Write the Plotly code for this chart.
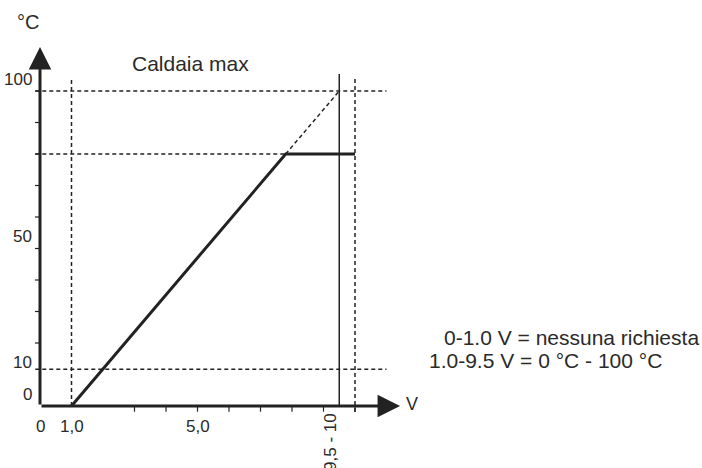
import plotly.graph_objects as go

# ---- data ----
curve_v = [1.0, 7.8, 10.0]          # volts
curve_t = [0, 80, 80]               # °C (Caldaia max = 80)
ext_v = [7.8, 9.5]                  # dashed extension to 100 °C
ext_t = [80, 100]
h_ref_t = [100, 80, 11.7]           # dashed horizontal reference lines
h_ref_end = [11.0, 7.8, 11.0]
v_ref_v = [1.0, 10.0]               # dashed vertical reference lines
v_ref_bottom = [0, -1.9]
v_ref_top = 104.4
solid_v = 9.5
solid_top = 105.4
x_tick_vals = [3, 4, 5, 6, 7, 8, 9, 10]
y_tick_vals = [20, 30, 40, 50, 60, 70, 80, 90, 100]
x_labels = {0: "0", 1: "1,0", 5: "5,0"}
y_labels = {0: "0", 10: "10", 50: "50", 100: "100"}
x_axis_end = 11.43
y_axis_end = 114.0

INK = "#222222"
TXT = "#2a2a2a"
FONT = "Liberation Sans, Arial, sans-serif"

fig = go.Figure()

def seg_trace(xs, ys, width, dash="solid"):
    fig.add_trace(go.Scatter(x=xs, y=ys, mode="lines",
                             line=dict(color=INK, width=width, dash=dash),
                             hoverinfo="skip", showlegend=False))

# dashed horizontals
hx, hy = [], []
for t, e in zip(h_ref_t, h_ref_end):
    hx += [-0.15, e, None]
    hy += [t, t, None]
seg_trace(hx, hy, 1.5, "4px,3px")

# dashed verticals
vx, vy = [], []
for v, b in zip(v_ref_v, v_ref_bottom):
    vx += [v, v, None]
    vy += [b, v_ref_top, None]
seg_trace(vx, vy, 1.5, "4px,3px")

# dashed extension
seg_trace(ext_v, ext_t, 1.5, "4px,3px")

# solid vertical at 9.5 V
seg_trace([solid_v, solid_v], [0, solid_top], 1.5)

# ticks
tx, ty = [], []
for v in x_tick_vals:
    tx += [v, v, None]
    ty += [0, -1.8, None]
for t in y_tick_vals:
    tx += [0, -0.16, None]
    ty += [t, t, None]
seg_trace(tx, ty, 1.2)

# main curve
seg_trace(curve_v, curve_t, 3)

annotations = []
# axes with arrowheads
annotations.append(dict(x=x_axis_end, y=0, ax=0, ay=0, xref="x", yref="y",
                        axref="x", ayref="y", text="", showarrow=True,
                        arrowhead=2, arrowsize=1.5, arrowwidth=3, arrowcolor=INK))
annotations.append(dict(x=0, y=y_axis_end, ax=0, ay=0, xref="x", yref="y",
                        axref="x", ayref="y", text="", showarrow=True,
                        arrowhead=2, arrowsize=1.5, arrowwidth=3, arrowcolor=INK))

def txt(x, y, s, size, **kw):
    d = dict(x=x, y=y, xref="x", yref="y", text=s, showarrow=False,
             font=dict(family=FONT, size=size, color=TXT))
    d.update(kw)
    annotations.append(d)

for v, s in x_labels.items():
    txt(v, 0, s, 17, yanchor="top", yshift=-9)
for t, s in y_labels.items():
    txt(-0.19, t, s, 17, xanchor="right", yshift=12)

txt(9.24, -11.4, "9,5 - 10", 17, textangle=-90)
txt(-0.38, 121.9, "°C", 20)
txt(11.81, 0.63, "V", 18)
txt(4.79, 108.7, "Caldaia max", 21)
txt(12.76, 21.6, "0-1.0 V = nessuna richiesta", 21, xanchor="left")
txt(12.29, 14.6, "1.0-9.5 V = 0 °C - 100 °C", 21, xanchor="left")

fig.update_layout(
    width=702, height=468, autosize=False,
    margin=dict(l=0, r=0, t=0, b=0, pad=0),
    paper_bgcolor="white", plot_bgcolor="white",
    xaxis=dict(range=[-40 / 31.5, 662 / 31.5], visible=False, fixedrange=True),
    yaxis=dict(range=[-62 / 3.15, 406 / 3.15], visible=False, fixedrange=True),
    annotations=annotations,
    showlegend=False,
)

fig.write_html("out.html", config={"displayModeBar": False},
               post_script="document.body.style.margin='0';document.body.style.padding='0';")
